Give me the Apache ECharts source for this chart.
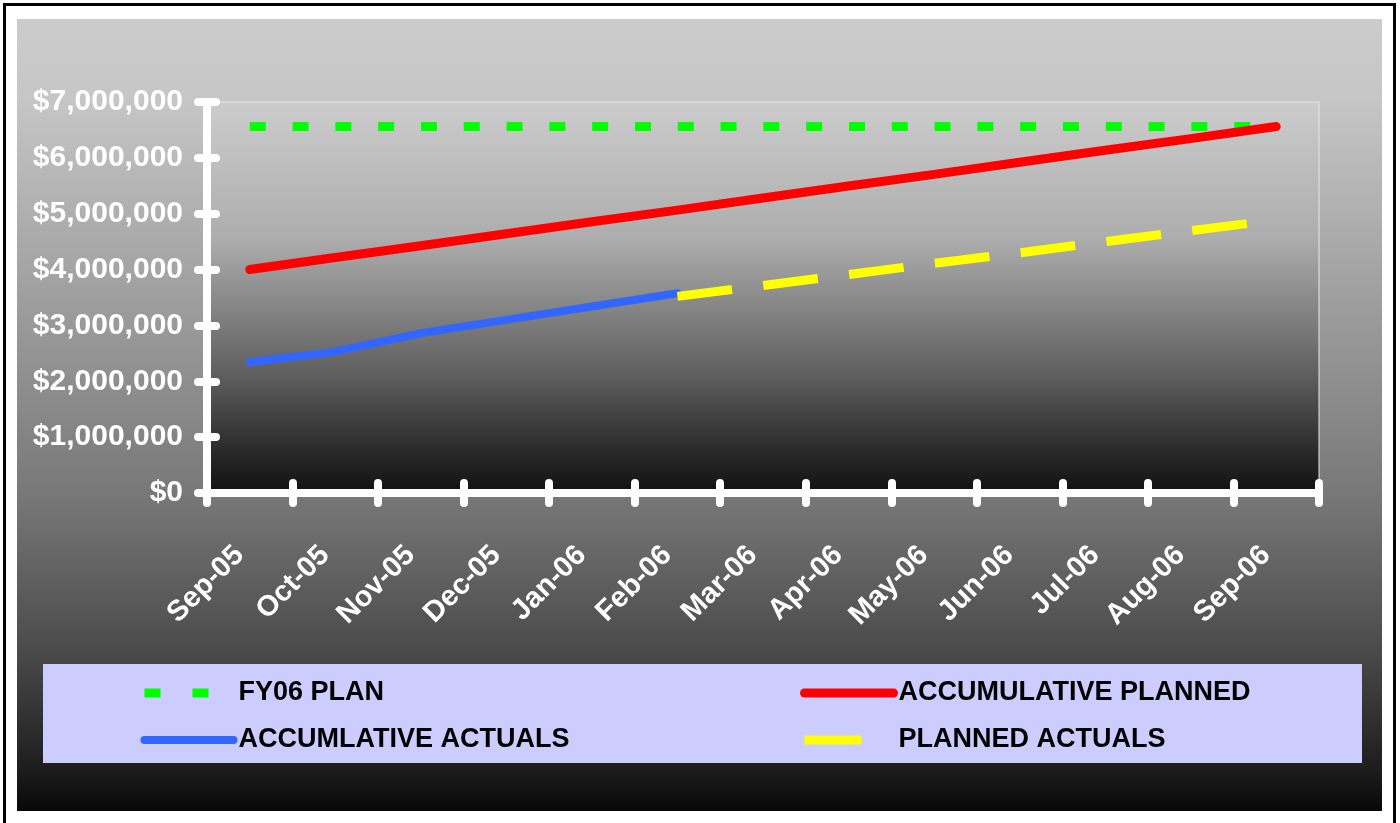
<!DOCTYPE html>
<html>
<head>
<meta charset="utf-8">
<script src="https://cdn.jsdelivr.net/npm/echarts@6/dist/echarts.min.js"></script>
<style>
  html, body { margin: 0; padding: 0; background: #ffffff; }
  #wrap { position: relative; width: 1400px; height: 823px; overflow: hidden; background: #ffffff; }
  #frame { position: absolute; left: 3px; top: 3px; width: 1387px; height: 830px; border: 3px solid #000; box-sizing: content-box; }
  #bg { position: absolute; left: 17px; top: 19px; width: 1365px; height: 792px;
        background: linear-gradient(to bottom, #cccccc 0%, #c6c6c6 10%, #787878 60%, #4a4a4a 80%, #1c1c1c 95%, #080808 100%); }
  #chart { position: absolute; left: 0; top: 0; width: 1400px; height: 823px; }
</style>
</head>
<body>
<div id="wrap">
  <div id="frame"></div>
  <div id="bg"></div>
  <div id="chart"></div>
</div>
<script>
// ---- data ----
const months = ['Sep-05','Oct-05','Nov-05','Dec-05','Jan-06','Feb-06','Mar-06','Apr-06','May-06','Jun-06','Jul-06','Aug-06','Sep-06'];
const seriesNames = ['FY06 PLAN','ACCUMULATIVE PLANNED','ACCUMLATIVE ACTUALS','PLANNED ACTUALS'];
const fy06Plan = [6560000,6560000,6560000,6560000,6560000,6560000,6560000,6560000,6560000,6560000,6560000,6560000,6560000];
const accumulativePlanned = [4000000,4215000,4425000,4640000,4855000,5065000,5280000,5495000,5705000,5920000,6135000,6345000,6560000];
const accumulativeActuals = [2340000,2530000,2860000,3100000,3340000,3575000];
const plannedActuals = [null,null,null,null,null,3520000,3715000,3910000,4110000,4300000,4500000,4695000,4890000];
const yTicks = { min: 0, max: 7000000, interval: 1000000 };

const FONT = '"Liberation Sans", Arial, sans-serif';
const chart = echarts.init(document.getElementById('chart'), null, { renderer: 'canvas' });

const plotGradient = new echarts.graphic.LinearGradient(0, 0, 0, 1, [
  { offset: 0, color: '#cccccc' },
  { offset: 0.35, color: '#adadad' },
  { offset: 0.7, color: '#5e5e5e' },
  { offset: 0.89, color: '#2a2a2a' },
  { offset: 1, color: '#111111' }
]);

const tickStyle = { color: '#ffffff', width: 8, cap: 'round' };
const legendText = { color: '#000000', fontWeight: 'bold', fontSize: 27, fontFamily: FONT, lineHeight: 30 };
const hiddenSymbol = { color: 'transparent', borderWidth: 0 };

const option = {
  backgroundColor: 'transparent',
  animation: false,
  grid: {
    left: 207, right: 81, top: 102, bottom: 330,
    show: true, backgroundColor: plotGradient, borderColor: '#e8e8e8', borderWidth: 1
  },
  graphic: [{
    type: 'rect', z: 0, silent: true,
    shape: { x: 43, y: 664, width: 1319, height: 99 },
    style: { fill: '#ccccff' }
  }],
  legend: [{
    data: [
      { name: seriesNames[0], itemStyle: hiddenSymbol, lineStyle: { color: '#00ff00', width: 9, type: [16, 32], cap: 'butt' } },
      { name: seriesNames[2], itemStyle: hiddenSymbol, lineStyle: { color: '#3366ff', width: 8, type: 'solid', cap: 'round' } }
    ],
    orient: 'vertical', left: 135, top: 673, itemGap: 17, padding: 5,
    itemWidth: 89, itemHeight: 14,
    itemStyle: hiddenSymbol,
    textStyle: legendText
  }, {
    data: [
      { name: seriesNames[1], itemStyle: hiddenSymbol, lineStyle: { color: '#ff0000', width: 9, type: 'solid', cap: 'round' } },
      { name: seriesNames[3], itemStyle: hiddenSymbol, lineStyle: { color: '#ffff00', width: 9, type: [57, 40], cap: 'butt' } }
    ],
    orient: 'vertical', left: 795, top: 673, itemGap: 17, padding: 5,
    itemWidth: 89, itemHeight: 14,
    itemStyle: hiddenSymbol,
    textStyle: legendText
  }],
  xAxis: [{
    type: 'category', data: months, boundaryGap: true, position: 'bottom',
    axisLine: { show: true, lineStyle: { color: '#ffffff', width: 8, cap: 'round' } },
    axisTick: { show: true, interval: 0, inside: false, length: 10, lineStyle: tickStyle },
    axisLabel: { interval: 0, rotate: 45, margin: 68, verticalAlign: 'bottom', color: '#ffffff', fontWeight: 'bold', fontSize: 29, fontFamily: FONT },
    splitLine: { show: false }
  }, {
    type: 'category', data: months, boundaryGap: true, position: 'bottom',
    axisLine: { show: false },
    axisTick: { show: true, interval: 0, inside: true, length: 10, lineStyle: tickStyle },
    axisLabel: { show: false },
    splitLine: { show: false }
  }],
  yAxis: [{
    type: 'value', min: yTicks.min, max: yTicks.max, interval: yTicks.interval, position: 'left',
    axisLine: { show: true, lineStyle: { color: '#ffffff', width: 8, cap: 'round' } },
    axisTick: { show: true, inside: false, length: 9, lineStyle: tickStyle },
    axisLabel: {
      margin: 24, color: '#ffffff', fontWeight: 'bold', fontSize: 30, fontFamily: FONT,
      formatter: v => '$' + Number(v).toLocaleString('en-US')
    },
    splitLine: { show: false }
  }, {
    type: 'value', min: yTicks.min, max: yTicks.max, interval: yTicks.interval, position: 'left',
    axisLine: { show: false },
    axisTick: { show: true, inside: true, length: 9, lineStyle: tickStyle },
    axisLabel: { show: false },
    splitLine: { show: false }
  }],
  series: [{
    name: seriesNames[0], type: 'line', data: fy06Plan, symbol: 'none', z: 2,
    itemStyle: { color: '#00ff00' },
    lineStyle: { color: '#00ff00', width: 9, type: [16, 26.8], cap: 'butt' }
  }, {
    name: seriesNames[1], type: 'line', data: accumulativePlanned, symbol: 'none', z: 3,
    itemStyle: { color: '#ff0000' },
    lineStyle: { color: '#ff0000', width: 9, cap: 'round', join: 'round' }
  }, {
    name: seriesNames[2], type: 'line', data: accumulativeActuals, symbol: 'none', z: 4,
    itemStyle: { color: '#3366ff' },
    lineStyle: { color: '#3366ff', width: 8, cap: 'round', join: 'round' }
  }, {
    name: seriesNames[3], type: 'line', data: plannedActuals, symbol: 'none', z: 5,
    connectNulls: false,
    itemStyle: { color: '#ffff00' },
    lineStyle: { color: '#ffff00', width: 9, type: [55, 31.5], cap: 'butt' }
  }]
};
chart.setOption(option);
</script>
</body>
</html>
